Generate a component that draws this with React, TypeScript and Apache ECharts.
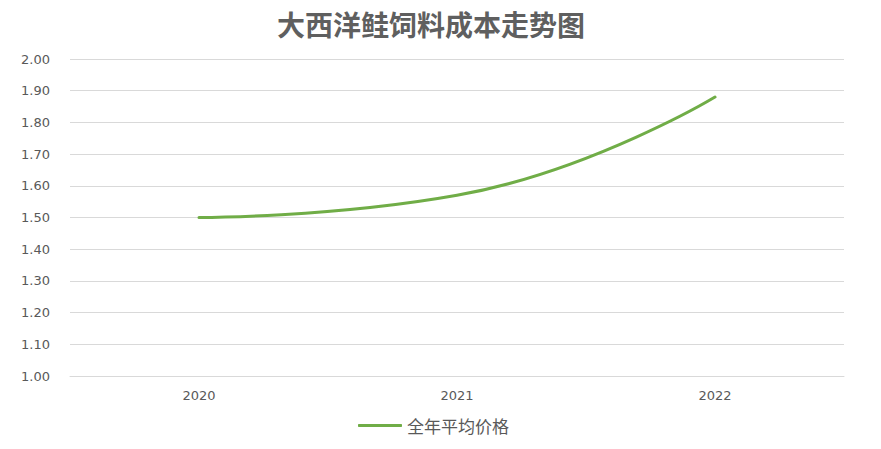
import React, { useEffect, useRef } from "react";
import * as echarts from "echarts";

const categories = ["2020", "2021", "2022"];
const avgPrice = [1.5, 1.57, 1.88];
const seriesName = "全年平均价格";
const titleText = "大西洋鲑饲料成本走势图";

export default function App() {
  const ref = useRef<HTMLDivElement>(null);
  useEffect(() => {
    const chart = echarts.init(ref.current!, null, { renderer: "svg" });
    const font = "'Noto Sans CJK SC', 'Microsoft YaHei', sans-serif";
    const numFont = "'DejaVu Sans', Verdana, sans-serif";
    chart.setOption({
      animation: false,
      backgroundColor: "#ffffff",
      title: {
        text: titleText,
        left: 272,
        top: 5,
        textStyle: { fontSize: 28, fontWeight: "bold", color: "#5f5f5f", fontFamily: font },
      },
      legend: {
        bottom: 10,
        left: 353,
        icon: "roundRect",
        itemWidth: 44,
        itemHeight: 3,
        itemGap: 3,
        textStyle: { fontSize: 17, color: "#595959", fontFamily: font },
        data: [seriesName],
      },
      grid: { left: 70, right: 37, top: 59, bottom: 73, containLabel: false },
      xAxis: {
        type: "category",
        data: categories,
        boundaryGap: true,
        axisLine: { show: true, lineStyle: { color: "#d9d9d9" } },
        axisTick: { show: false },
        axisLabel: { color: "#595959", fontSize: 13, margin: 13, fontFamily: numFont },
      },
      yAxis: {
        type: "value",
        min: 1,
        max: 2,
        interval: 0.1,
        axisLine: { show: false },
        axisTick: { show: false },
        axisLabel: {
          color: "#595959",
          fontSize: 13,
          margin: 20,
          fontFamily: numFont,
          formatter: (v: number) => v.toFixed(2),
        },
        splitLine: { lineStyle: { color: "#d9d9d9", width: 1 } },
      },
      series: [
        {
          name: seriesName,
          type: "line",
          data: avgPrice,
          smooth: true,
          showSymbol: false,
          symbol: "none",
          lineStyle: { color: "#70AD47", width: 3, cap: "round" },
          itemStyle: { color: "#70AD47" },
        },
      ],
    });
    return () => chart.dispose();
  }, []);
  return (
    <div
      ref={ref}
      style={{ position: "absolute", left: 0, top: 0, width: 881, height: 449 }}
    />
  );
}
